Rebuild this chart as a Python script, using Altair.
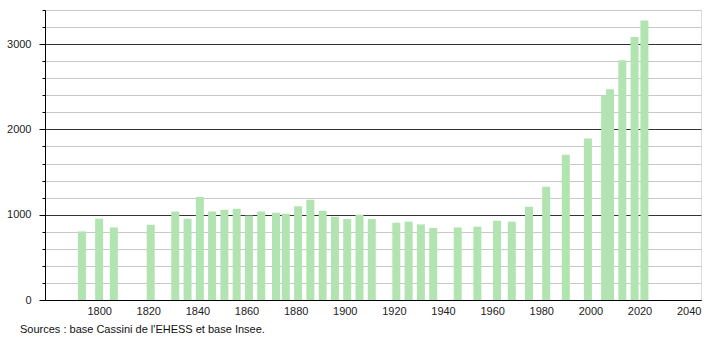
import altair as alt
import pandas as pd

years = [1793, 1800, 1806, 1821, 1831, 1836, 1841, 1846, 1851, 1856, 1861, 1866,
         1872, 1876, 1881, 1886, 1891, 1896, 1901, 1906, 1911, 1921, 1926, 1931,
         1936, 1946, 1954, 1962, 1968, 1975, 1982, 1990, 1999, 2006, 2008, 2013,
         2018, 2022]
population = [804, 953, 851, 882, 1039, 953, 1208, 1039, 1059, 1071, 990, 1039,
              1024, 1012, 1098, 1176, 1047, 976, 949, 1000, 949, 906, 918, 886,
              845, 851, 859, 929, 918, 1094, 1329, 1702, 1894, 2392, 2470, 2812,
              3082, 3278]
x_ticks = [1800, 1820, 1840, 1860, 1880, 1900, 1920, 1940, 1960, 1980, 2000, 2020, 2040]
y_ticks = list(range(0, 3401, 200))
source = "Sources : base Cassini de l'EHESS et base Insee."

df = pd.DataFrame({"year": years, "pop": population})

font = "Liberation Sans"

chart = alt.Chart(df).mark_bar(size=8, color="#b2e4b2").encode(
    x=alt.X("year:Q",
            scale=alt.Scale(domain=[1780, 2043], nice=False, zero=False),
            axis=alt.Axis(values=x_ticks, title=None, grid=False, ticks=False,
                          domainColor="#000", labelPadding=5, labelFont=font,
                          labelFontSize=11, labelColor="#222", labelFlush=False,
                          format="d")),
    y=alt.Y("pop:Q",
            scale=alt.Scale(domain=[0, 3400], nice=False),
            axis=alt.Axis(values=y_ticks, title=None,
                          labelExpr="datum.value % 1000 === 0 ? datum.label : ''",
                          format="d",
                          gridColor=alt.condition("datum.value % 1000 === 0",
                                                  alt.value("#333333"), alt.value("#c8c8c8")),
                          tickSize=alt.condition("datum.value % 1000 === 0",
                                                 alt.value(6), alt.value(3)),
                          tickColor="#000", domainColor="#000",
                          labelPadding=8, labelFont=font, labelFontSize=11,
                          labelColor="#222")),
).properties(
    width=656, height=290,
    title=alt.TitleParams(source, orient="bottom", anchor="start", frame="group",
                          dx=-25, offset=8,
                          font=font, fontSize=11, fontWeight="normal", color="#111"),
    autosize=alt.AutoSizeParams(type="none"),
    padding={"left": 45, "top": 10, "right": 9, "bottom": 40},
).configure_view(stroke=None).configure(background="white")

chart.save("out.html", embed_options={"renderer": "svg", "actions": False})
